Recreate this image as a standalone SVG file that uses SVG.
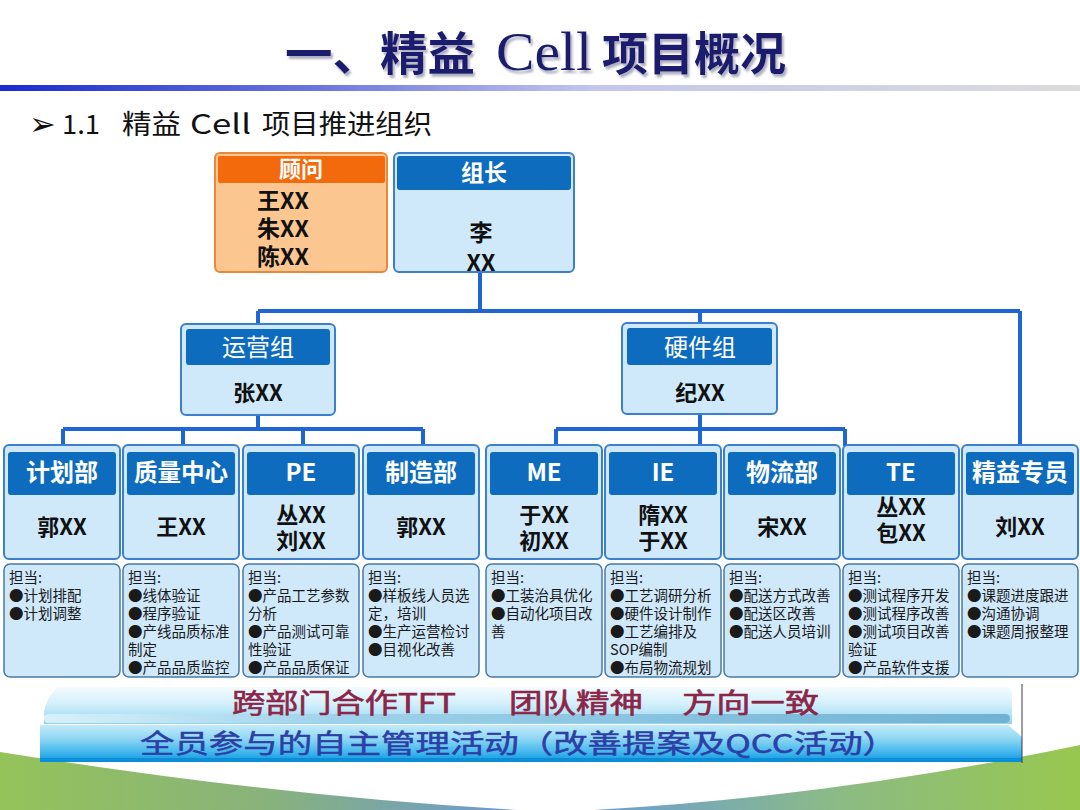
<svg xmlns="http://www.w3.org/2000/svg" width="1080" height="810" viewBox="0 0 1080 810" font-family="'Noto Sans CJK SC', 'Noto Sans', sans-serif">
<defs>
<linearGradient id="gLine" x1="0" y1="0" x2="1" y2="0">
<stop offset="0" stop-color="#1a2bd0"/><stop offset="0.3" stop-color="#6c78e0"/><stop offset="0.55" stop-color="#c4c6ec"/><stop offset="1" stop-color="#dcdcdc"/>
</linearGradient>
<linearGradient id="gGreen" x1="0" y1="0" x2="1" y2="0">
<stop offset="0" stop-color="#95c35a"/><stop offset="0.25" stop-color="#88b27c"/><stop offset="0.46" stop-color="#6e9ccc"/><stop offset="0.56" stop-color="#6d9fd0"/><stop offset="0.78" stop-color="#8cbb84"/><stop offset="1" stop-color="#98c74f"/>
</linearGradient>
<linearGradient id="gTop" x1="0" y1="0" x2="0" y2="1">
<stop offset="0" stop-color="#f4fbfe"/><stop offset="0.45" stop-color="#d3f0fb"/><stop offset="0.85" stop-color="#a6ddf4"/><stop offset="1" stop-color="#92d2ee"/>
</linearGradient>
<linearGradient id="gBand" x1="0" y1="0" x2="1" y2="0">
<stop offset="0" stop-color="#d6f1fb"/><stop offset="0.3" stop-color="#9fd2ea"/><stop offset="1" stop-color="#6fb2d4"/>
</linearGradient>
<linearGradient id="gBot" x1="0" y1="0" x2="0" y2="1">
<stop offset="0" stop-color="#c2ebfa"/><stop offset="0.35" stop-color="#92d8f4"/><stop offset="0.75" stop-color="#3fb5ec"/><stop offset="1" stop-color="#0c96de"/>
</linearGradient>
<filter id="shadow" x="-5%" y="-20%" width="110%" height="150%">
<feDropShadow dx="2" dy="3" stdDeviation="1.2" flood-color="#8c8ca8" flood-opacity="0.7"/>
</filter>
<style>
.conn{stroke:#1d66d4;stroke-width:4;fill:none}
.box{fill:#cfe8fa;stroke:#3b80cc;stroke-width:2}
.hdr{fill:#0e6cbf}
.htxt{fill:#ffffff;font-weight:700;font-size:24px;text-anchor:middle}
.hreg{fill:#ffffff;font-weight:400;font-size:24px;text-anchor:middle}
.name{fill:#111111;font-weight:700;font-size:22px;text-anchor:middle}
.desc{fill:#cfe8fa;stroke:#4a7aa6;stroke-width:1.5}
.dtxt{fill:#1a1a1a;font-size:14.5px}
</style>
</defs>
<rect width="1080" height="810" fill="#ffffff"/>
<path d="M0,752 Q300,800 555,812 Q820,800 1080,745 L1080,810 L0,810 Z" fill="url(#gGreen)"/>

<g id="title" fill="#1c1c6e" filter="url(#shadow)">
<text x="285" y="70" font-size="46" font-weight="700" textLength="190" lengthAdjust="spacingAndGlyphs">一、精益</text>
<text x="496" y="70" font-size="54" font-family="'Liberation Serif', serif" textLength="96" lengthAdjust="spacingAndGlyphs">Cell</text>
<text x="602" y="70" font-size="46" font-weight="700" textLength="184" lengthAdjust="spacingAndGlyphs">项目概况</text>
</g>
<rect x="0" y="85" width="1080" height="6" fill="url(#gLine)"/>

<g id="subtitle" fill="#111111">
<text x="29" y="135" font-size="32" font-family="'DejaVu Sans', sans-serif">➢</text>
<text x="62" y="134" font-size="27" textLength="38" lengthAdjust="spacingAndGlyphs">1.1</text>
<text x="122" y="134" font-size="27" textLength="59" lengthAdjust="spacingAndGlyphs">精益</text>
<text x="190" y="134" font-size="27" textLength="61" lengthAdjust="spacingAndGlyphs">Cell</text>
<text x="262" y="134" font-size="27" textLength="170" lengthAdjust="spacingAndGlyphs">项目推进组织</text>
</g>

<g id="connectors">
<path class="conn" d="M480,272 V311 M258,311 H1020 M258,311 V324 M700,311 V323 M1020,311 V446"/>
<path class="conn" d="M258,415 V429 M63,429 H423 M63,429 V446 M183,429 V446 M303,429 V446 M423,429 V446"/>
<path class="conn" d="M700,414 V446 M556,429 H845 M556,429 V446 M845,429 V446"/>
</g>

<g id="node-guwen">
<rect x="215" y="153" width="172" height="119" rx="5" fill="#fbc690" stroke="#e8883a" stroke-width="2"/>
<rect x="218" y="156" width="167" height="27" rx="2" fill="#f26a0c"/>
<text x="301" y="177" class="htxt" style="font-size:22px">顾问</text>
<text x="257" y="209" font-size="23" font-weight="700" fill="#111">王XX</text>
<text x="257" y="237" font-size="23" font-weight="700" fill="#111">朱XX</text>
<text x="257" y="265" font-size="23" font-weight="700" fill="#111">陈XX</text>
</g>
<g id="node-zuzhang">
<rect x="394" y="153" width="180" height="119" rx="5" class="box"/>
<rect x="397" y="156" width="174" height="34" rx="3" class="hdr"/>
<text x="484" y="181" class="htxt" style="font-size:23px">组长</text>
<text x="481" y="241" class="name" style="font-size:23px">李</text>
<text x="481" y="271" class="name" style="font-size:23px">XX</text>
</g>

<g id="node-yunying">
<rect x="181" y="324" width="154" height="91" rx="5" class="box"/>
<rect x="186" y="329" width="144" height="36" rx="3" class="hdr"/>
<text x="258" y="356" class="hreg">运营组</text>
<text x="258" y="401" class="name">张XX</text>
</g>
<g id="node-yingjian">
<rect x="622" y="323" width="155" height="91" rx="5" class="box"/>
<rect x="627" y="328" width="145" height="37" rx="3" class="hdr"/>
<text x="700" y="356" class="hreg">硬件组</text>
<text x="700" y="401" class="name">纪XX</text>
</g>

<g id="node-jihua">
<rect x="4" y="445" width="116" height="114" rx="5" class="box"/>
<rect x="8" y="452" width="108" height="43" rx="3" class="hdr"/>
<text x="62" y="481" class="htxt">计划部</text>
<text x="62" y="535" class="name">郭XX</text>
<rect x="4" y="564" width="116" height="113" rx="6" class="desc"/>
<text class="dtxt"><tspan x="9" y="583">担当:</tspan><tspan x="9" y="601">●计划排配</tspan><tspan x="9" y="619">●计划调整</tspan></text>
</g>
<g id="node-zhiliang">
<rect x="123" y="445" width="116" height="114" rx="5" class="box"/>
<rect x="127" y="452" width="108" height="43" rx="3" class="hdr"/>
<text x="181" y="481" class="htxt" textLength="94" lengthAdjust="spacingAndGlyphs">质量中心</text>
<text x="181" y="535" class="name">王XX</text>
<rect x="123" y="564" width="116" height="113" rx="6" class="desc"/>
<text class="dtxt"><tspan x="128" y="583">担当:</tspan><tspan x="128" y="601">●线体验证</tspan><tspan x="128" y="619">●程序验证</tspan><tspan x="128" y="637">●产线品质标准</tspan><tspan x="128" y="655">制定</tspan><tspan x="128" y="673">●产品品质监控</tspan></text>
</g>
<g id="node-pe">
<rect x="243" y="445" width="116" height="114" rx="5" class="box"/>
<rect x="247" y="452" width="108" height="43" rx="3" class="hdr"/>
<text x="301" y="481" class="htxt">PE</text>
<text x="301" y="523" class="name">丛XX</text>
<text x="301" y="549" class="name">刘XX</text>
<rect x="243" y="564" width="116" height="113" rx="6" class="desc"/>
<text class="dtxt"><tspan x="248" y="583">担当:</tspan><tspan x="248" y="601">●产品工艺参数</tspan><tspan x="248" y="619">分析</tspan><tspan x="248" y="637">●产品测试可靠</tspan><tspan x="248" y="655">性验证</tspan><tspan x="248" y="673">●产品品质保证</tspan></text>
</g>
<g id="node-zhizao">
<rect x="363" y="445" width="116" height="114" rx="5" class="box"/>
<rect x="367" y="452" width="108" height="43" rx="3" class="hdr"/>
<text x="421" y="481" class="htxt">制造部</text>
<text x="421" y="535" class="name">郭XX</text>
<rect x="363" y="564" width="116" height="113" rx="6" class="desc"/>
<text class="dtxt"><tspan x="368" y="583">担当:</tspan><tspan x="368" y="601">●样板线人员选</tspan><tspan x="368" y="619">定，培训</tspan><tspan x="368" y="637">●生产运营检讨</tspan><tspan x="368" y="655">●目视化改善</tspan></text>
</g>
<g id="node-me">
<rect x="486" y="445" width="116" height="114" rx="5" class="box"/>
<rect x="490" y="452" width="108" height="43" rx="3" class="hdr"/>
<text x="544" y="481" class="htxt">ME</text>
<text x="544" y="523" class="name">于XX</text>
<text x="544" y="549" class="name">初XX</text>
<rect x="486" y="564" width="116" height="113" rx="6" class="desc"/>
<text class="dtxt"><tspan x="491" y="583">担当:</tspan><tspan x="491" y="601">●工装治具优化</tspan><tspan x="491" y="619">●自动化项目改</tspan><tspan x="491" y="637">善</tspan></text>
</g>
<g id="node-ie">
<rect x="605" y="445" width="116" height="114" rx="5" class="box"/>
<rect x="609" y="452" width="108" height="43" rx="3" class="hdr"/>
<text x="663" y="481" class="htxt">IE</text>
<text x="663" y="523" class="name">隋XX</text>
<text x="663" y="549" class="name">于XX</text>
<rect x="605" y="564" width="116" height="113" rx="6" class="desc"/>
<text class="dtxt"><tspan x="610" y="583">担当:</tspan><tspan x="610" y="601">●工艺调研分析</tspan><tspan x="610" y="619">●硬件设计制作</tspan><tspan x="610" y="637">●工艺编排及</tspan><tspan x="610" y="655">SOP编制</tspan><tspan x="610" y="673">●布局物流规划</tspan></text>
</g>
<g id="node-wuliu">
<rect x="724" y="445" width="116" height="114" rx="5" class="box"/>
<rect x="728" y="452" width="108" height="43" rx="3" class="hdr"/>
<text x="782" y="481" class="htxt">物流部</text>
<text x="782" y="535" class="name">宋XX</text>
<rect x="724" y="564" width="116" height="113" rx="6" class="desc"/>
<text class="dtxt"><tspan x="729" y="583">担当:</tspan><tspan x="729" y="601">●配送方式改善</tspan><tspan x="729" y="619">●配送区改善</tspan><tspan x="729" y="637">●配送人员培训</tspan></text>
</g>
<g id="node-te">
<rect x="843" y="445" width="116" height="114" rx="5" class="box"/>
<rect x="847" y="452" width="108" height="43" rx="3" class="hdr"/>
<text x="901" y="481" class="htxt">TE</text>
<text x="901" y="515" class="name">丛XX</text>
<text x="901" y="541" class="name">包XX</text>
<rect x="843" y="564" width="116" height="113" rx="6" class="desc"/>
<text class="dtxt"><tspan x="848" y="583">担当:</tspan><tspan x="848" y="601">●测试程序开发</tspan><tspan x="848" y="619">●测试程序改善</tspan><tspan x="848" y="637">●测试项目改善</tspan><tspan x="848" y="655">验证</tspan><tspan x="848" y="673">●产品软件支援</tspan></text>
</g>
<g id="node-jingyi">
<rect x="962" y="445" width="116" height="114" rx="5" class="box"/>
<rect x="966" y="452" width="108" height="43" rx="3" class="hdr"/>
<text x="1020" y="481" class="htxt" textLength="96" lengthAdjust="spacingAndGlyphs">精益专员</text>
<text x="1020" y="535" class="name">刘XX</text>
<rect x="962" y="564" width="116" height="113" rx="6" class="desc"/>
<text class="dtxt"><tspan x="967" y="583">担当:</tspan><tspan x="967" y="601">●课题进度跟进</tspan><tspan x="967" y="619">●沟通协调</tspan><tspan x="967" y="637">●课题周报整理</tspan></text>
</g>

<g id="banner">
<path d="M58,687 L1004,687 Q1012,687 1012,696 L1012,724 L44,724 L44,712 Q46,697 58,687 Z" fill="url(#gTop)"/>
<rect x="44" y="714" width="966" height="9" rx="4.5" fill="url(#gBand)"/>
<path d="M40,725 L1008,725 L1022,737 L1022,762 L40,762 Z" fill="url(#gBot)"/>
<rect x="40" y="758" width="982" height="4" fill="#0a8ed8"/>
<line x1="1022" y1="684" x2="1022" y2="763" stroke="#3a3a4a" stroke-width="1"/>
<g fill="#8b2648" stroke="#8b2648" stroke-width="0.6" font-size="27">
<text x="232" y="713" textLength="224" lengthAdjust="spacingAndGlyphs">跨部门合作TFT</text>
<text x="509" y="713" textLength="134" lengthAdjust="spacingAndGlyphs">团队精神</text>
<text x="682" y="713" textLength="137" lengthAdjust="spacingAndGlyphs">方向一致</text>
</g>
<text x="140" y="753" fill="#2b3fa6" stroke="#2b3fa6" stroke-width="0.5" font-size="26" textLength="757" lengthAdjust="spacingAndGlyphs">全员参与的自主管理活动（改善提案及QCC活动）</text>
</g>
</svg>
